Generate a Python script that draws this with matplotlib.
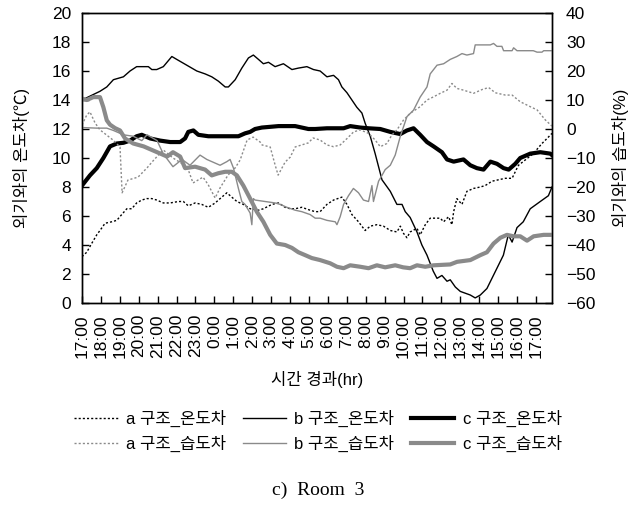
import matplotlib
matplotlib.use("Agg")
import matplotlib.pyplot as plt

plt.rcParams["font.family"] = ["Liberation Sans", "Noto Sans CJK KR", "DejaVu Sans"]

# hours elapsed since 17:00 -> difference against outdoor air
HOUR_LABELS = ["17:00", "18:00", "19:00", "20:00", "21:00", "22:00", "23:00",
               "0:00", "1:00", "2:00", "3:00", "4:00", "5:00", "6:00", "7:00",
               "8:00", "9:00", "10:00", "11:00", "12:00", "13:00", "14:00",
               "15:00", "16:00", "17:00"]
X_END = 24.85

# temperature difference (deg C), left axis
a_temp = [(0, 3.2), (0.25, 3.5), (0.51, 4.1), (0.78, 4.7), (0.95, 5.0), (1.22, 5.5),
          (1.57, 5.6), (1.84, 5.7), (2.1, 6.1), (2.37, 6.5), (2.63, 6.5), (2.89, 6.9),
          (3.16, 7.1), (3.42, 7.2), (3.69, 7.2), (3.95, 7.1), (4.3, 6.9), (4.66, 6.9),
          (5.1, 7.0), (5.36, 7.0), (5.62, 6.7), (5.98, 6.9), (6.33, 6.8), (6.68, 6.6),
          (7.04, 6.9), (7.39, 7.3), (7.66, 7.6), (7.92, 7.3), (8.19, 7.0), (8.53, 6.8),
          (8.89, 6.5), (9.33, 6.4), (9.59, 6.5), (10.04, 6.8), (10.39, 6.9), (10.74, 6.6),
          (11.01, 6.5), (11.27, 6.5), (11.62, 6.6), (12.06, 6.4), (12.33, 6.3), (12.59, 6.3),
          (12.95, 6.8), (13.3, 7.1), (13.74, 7.3), (14.01, 6.8), (14.27, 6.1), (14.62, 5.6),
          (14.97, 5.0), (15.24, 5.3), (15.59, 5.4), (15.94, 5.3), (16.3, 5.0), (16.65, 4.9),
          (16.83, 5.3), (17.0, 4.8), (17.18, 4.5), (17.35, 4.9), (17.71, 5.15), (17.88, 4.7),
          (18.15, 5.4), (18.41, 5.85), (18.94, 5.85), (19.12, 5.6), (19.38, 5.95), (19.56, 5.4),
          (19.65, 6.3), (19.82, 7.2), (20.09, 6.8), (20.35, 7.7), (20.7, 7.9), (21.06, 8.0),
          (21.32, 8.1), (21.68, 8.4), (22.03, 8.5), (22.38, 8.6), (22.74, 8.6), (23.0, 9.3),
          (23.08, 9.5), (23.86, 10.3), (24.32, 11.0), (24.59, 11.35), (24.85, 11.7)]
b_temp = [(0, 14.0), (0.95, 14.6), (1.31, 14.9), (1.66, 15.4), (2.19, 15.6), (2.54, 16.0),
          (2.89, 16.3), (3.24, 16.3), (3.51, 16.3), (3.69, 16.1), (3.95, 16.1), (4.3, 16.3),
          (4.75, 17.0), (5.01, 16.8), (5.54, 16.4), (6.07, 16.0), (6.51, 15.8), (6.86, 15.6),
          (7.21, 15.3), (7.57, 14.9), (7.74, 14.9), (8.1, 15.4), (8.45, 16.2), (8.8, 16.9),
          (9.06, 17.1), (9.33, 16.8), (9.59, 16.5), (9.86, 16.6), (10.21, 16.3), (10.65, 16.5),
          (11.1, 16.1), (11.44, 16.2), (11.89, 16.3), (12.24, 16.1), (12.59, 16.0), (12.95, 15.6),
          (13.3, 15.7), (13.56, 15.4), (13.74, 14.9), (14.01, 14.5), (14.27, 14.0), (14.53, 13.5),
          (14.8, 13.1), (14.97, 12.4), (15.24, 11.5), (15.5, 10.3), (15.86, 8.5), (16.3, 7.7),
          (16.65, 6.8), (16.92, 6.8), (17.09, 6.3), (17.35, 5.9), (17.71, 4.9), (17.97, 4.0),
          (18.24, 3.3), (18.57, 2.2), (18.77, 1.7), (19.03, 1.9), (19.3, 1.5), (19.47, 1.6),
          (19.74, 1.1), (20.0, 0.8), (20.53, 0.55), (20.79, 0.35), (21.06, 0.55), (21.41, 1.0),
          (21.94, 2.4), (22.28, 3.3), (22.54, 4.7), (22.74, 4.2), (23.0, 5.2), (23.33, 5.6),
          (23.7, 6.5), (24.23, 7.0), (24.66, 7.4), (24.85, 8.0)]
c_temp = [(0, 8.1), (0.42, 8.8), (0.78, 9.3), (1.13, 10.0), (1.48, 10.8), (1.84, 11.0),
          (2.19, 11.05), (2.54, 11.2), (2.89, 11.5), (3.16, 11.6), (3.6, 11.35), (4.13, 11.2),
          (4.66, 11.1), (5.19, 11.1), (5.45, 11.35), (5.62, 11.8), (5.89, 11.9), (6.15, 11.6),
          (6.68, 11.5), (7.39, 11.5), (7.92, 11.5), (8.27, 11.5), (8.62, 11.7), (8.89, 11.8),
          (9.15, 12.0), (9.51, 12.1), (10.39, 12.2), (11.27, 12.2), (11.97, 12.0), (12.33, 12.0),
          (12.95, 12.05), (13.83, 12.05), (14.18, 12.2), (14.71, 12.1), (15.15, 12.05),
          (15.77, 12.0), (16.3, 11.8), (16.83, 11.65), (17.18, 11.9), (17.53, 12.05),
          (17.88, 11.6), (18.24, 11.1), (18.59, 10.8), (19.03, 10.4), (19.3, 9.9), (19.65, 9.75),
          (20.17, 9.9), (20.53, 9.5), (20.88, 9.3), (21.23, 9.2), (21.59, 9.75), (21.94, 9.6),
          (22.29, 9.3), (22.56, 9.2), (22.91, 9.6), (23.17, 10.0), (23.7, 10.3), (24.23, 10.4),
          (24.76, 10.3), (24.85, 10.2)]

# humidity difference (%), right axis
a_hum = [(0, 1.4), (0.25, 4.8), (0.42, 5.9), (0.69, 2.1), (0.95, -0.3), (1.64, -3.8),
         (2.01, -6.2), (2.12, -22.0), (2.43, -17.6), (2.96, -16.6), (3.44, -13.4),
         (3.7, -11.4), (4.29, -7.2), (4.81, -10.0), (5.56, -13.0), (5.87, -18.6),
         (6.4, -16.6), (6.68, -19.3), (7.04, -23.8), (7.3, -20.3), (7.72, -15.9),
         (8.1, -13.4), (8.36, -10.7), (8.73, -3.8), (9.05, -2.8), (9.42, -4.5), (9.52, -5.5),
         (9.95, -6.2), (10.21, -12.4), (10.37, -15.9), (10.74, -11.4), (11.01, -9.7),
         (11.27, -6.2), (11.96, -4.8), (12.22, -3.1), (12.59, -3.8), (12.95, -5.5),
         (13.3, -6.1), (13.65, -5.5), (14.01, -3.3), (14.36, -1.0), (14.71, -0.3),
         (15.15, -1.5), (15.5, -3.8), (15.77, -6.1), (16.12, -5.0), (16.38, -2.1),
         (16.65, -0.3), (17.0, 3.1), (17.35, 5.4), (17.88, 7.7), (18.24, 10.0), (18.59, 11.1),
         (18.94, 12.3), (19.3, 13.4), (19.56, 15.7), (19.82, 14.0), (20.17, 13.4),
         (20.7, 12.3), (21.15, 13.6), (21.5, 14.3), (21.85, 12.5), (22.38, 11.7),
         (22.74, 11.7), (23.17, 9.4), (23.7, 7.7), (24.06, 6.6), (24.5, 3.1), (24.85, 1.0)]
b_hum = [(0, 0.5), (0.78, 0.3), (1.31, 0.3), (1.66, -0.5), (2.19, -2.0), (2.71, -2.5),
         (3.16, -4.0), (3.44, -2.0), (3.97, -4.0), (4.29, -8.5), (4.81, -13.0), (5.29, -10.5),
         (5.71, -12.5), (6.24, -9.0), (6.6, -10.5), (7.3, -12.5), (7.66, -11.25),
         (7.83, -10.5), (8.01, -13.5), (8.27, -20.5), (8.45, -25.0), (8.62, -26.0),
         (8.89, -29.0), (8.98, -33.0), (9.06, -24.0), (9.15, -24.5), (9.68, -25.0),
         (10.21, -25.5), (10.48, -26.0), (10.83, -27.0), (11.27, -28.0), (11.62, -28.5),
         (12.06, -29.5), (12.33, -30.75), (12.59, -30.75), (12.95, -31.5), (13.39, -32.0),
         (13.48, -33.0), (13.65, -30.25), (13.83, -26.0), (14.09, -23.0), (14.35, -20.5),
         (14.62, -22.0), (14.88, -24.5), (15.15, -25.0), (15.33, -19.5), (15.41, -25.0),
         (15.68, -18.0), (15.86, -16.0), (16.03, -14.0), (16.3, -12.5), (16.56, -9.0),
         (16.83, -2.5), (17.18, 4.25), (17.53, 6.5), (17.88, 11.0), (18.24, 14.5),
         (18.41, 19.0), (18.59, 20.5), (18.77, 22.0), (19.12, 22.5), (19.47, 24.0),
         (19.82, 25.0), (20.09, 26.0), (20.35, 25.5), (20.7, 26.0), (20.79, 29.0),
         (21.06, 29.0), (21.59, 29.0), (21.76, 29.5), (21.94, 28.5), (22.2, 28.5),
         (22.29, 27.0), (22.74, 27.0), (22.82, 28.0), (23.0, 27.0), (23.86, 27.0),
         (24.06, 26.5), (24.32, 26.5), (24.41, 27.0), (24.85, 27.0)]
c_hum = [(0, 10.5), (0.25, 10.0), (0.6, 11.0), (0.95, 11.0), (1.13, 7.5), (1.31, 3.0),
         (1.48, 1.5), (1.75, 0.3), (2.01, -0.5), (2.28, -3.3), (2.71, -5.0), (3.26, -6.0),
         (3.97, -8.0), (4.5, -9.5), (4.81, -8.0), (5.19, -9.5), (5.45, -13.5), (5.98, -13.0),
         (6.51, -14.0), (6.86, -16.0), (7.21, -15.25), (7.57, -14.75), (7.92, -14.75),
         (8.19, -16.0), (8.53, -19.5), (8.89, -24.0), (9.24, -28.5), (9.59, -32.0),
         (9.95, -36.5), (10.3, -39.5), (10.74, -40.0), (11.1, -41.0), (11.44, -42.5),
         (11.8, -43.5), (12.15, -44.5), (12.59, -45.2), (13.12, -46.3), (13.48, -47.5),
         (13.83, -48.0), (14.18, -47.0), (14.71, -47.5), (15.15, -48.0), (15.59, -47.0),
         (16.03, -47.7), (16.56, -47.0), (16.98, -47.7), (17.35, -48.0), (17.71, -47.0),
         (18.15, -47.5), (18.59, -47.0), (19.47, -46.7), (19.83, -45.8), (20.53, -45.2),
         (21.06, -43.5), (21.41, -42.5), (21.76, -39.5), (22.12, -37.5), (22.47, -36.5),
         (22.82, -37.0), (23.17, -37.0), (23.53, -38.5), (23.88, -37.0), (24.41, -36.5),
         (24.76, -36.5), (24.85, -36.5)]

GREY = "#8a8a8a"
DOTS = (0, (1.5, 1.5))
FS = 12

fig = plt.figure(figsize=(6.4, 5.08), dpi=100)
ax = fig.add_axes([82 / 640, 1 - 303 / 508, 470 / 640, 290 / 508])
ax2 = ax.twinx()


def draw(axis, pts, **kw):
    hrs, vals = zip(*pts)
    return axis.plot(hrs, vals, **kw)[0]


l_at = draw(ax, a_temp, color="black", lw=1.0, ls=DOTS, label="a 구조_온도차")
l_bt = draw(ax, b_temp, color="black", lw=1.0, label="b 구조_온도차")
l_ct = draw(ax, c_temp, color="black", lw=3.0, label="c 구조_온도차")
l_ah = draw(ax2, a_hum, color=GREY, lw=1.0, ls=DOTS, label="a 구조_습도차")
l_bh = draw(ax2, b_hum, color=GREY, lw=1.0, label="b 구조_습도차")
l_ch = draw(ax2, c_hum, color=GREY, lw=3.0, label="c 구조_습도차")

ax.set_xlim(0, X_END)
ax.set_ylim(0, 20)
ax2.set_ylim(-60, 40)
ax.set_yticks(range(0, 21, 2))
ax2.set_yticks(range(-60, 41, 10))
ax2.set_yticklabels([str(v).replace("-", "\u2212") for v in range(-60, 41, 10)])
ax.set_xticks(range(len(HOUR_LABELS)))
ax.set_xticklabels(HOUR_LABELS, rotation=90)

for a in (ax, ax2):
    a.tick_params(direction="in", length=5, width=1, labelsize=12.5, colors="black")
    for s in a.spines.values():
        s.set_linewidth(1.0)
ax.tick_params(axis="x", pad=8)
ax.tick_params(axis="y", pad=8)
ax2.tick_params(axis="y", pad=10)

ax.set_ylabel("외기와의 온도차(\u2103)", fontsize=FS)
ax.yaxis.set_label_coords(-52 / 470, 0.5)
ax2.set_ylabel("외기와의 습도차(%)", fontsize=FS)
ax2.yaxis.set_label_coords(1 + 60 / 470, 0.5)
fig.text(317 / 640, 1 - 380 / 508, "시간 경과(hr)", ha="center", va="center", fontsize=FS)

fig.legend(handles=[l_at, l_ah, l_bt, l_bh, l_ct, l_ch], ncol=3, frameon=False,
           loc="upper center", bbox_to_anchor=(318 / 640, 1 - 410 / 508),
           borderpad=0, borderaxespad=0, fontsize=FS, handlelength=2.6,
           handletextpad=0.5, columnspacing=1.0, labelspacing=0.45)

fig.text(318 / 640, 1 - 490 / 508, "c)  Room  3", ha="center", va="center",
         fontsize=14, family="Liberation Serif")

fig.savefig("out.png", dpi=100)
